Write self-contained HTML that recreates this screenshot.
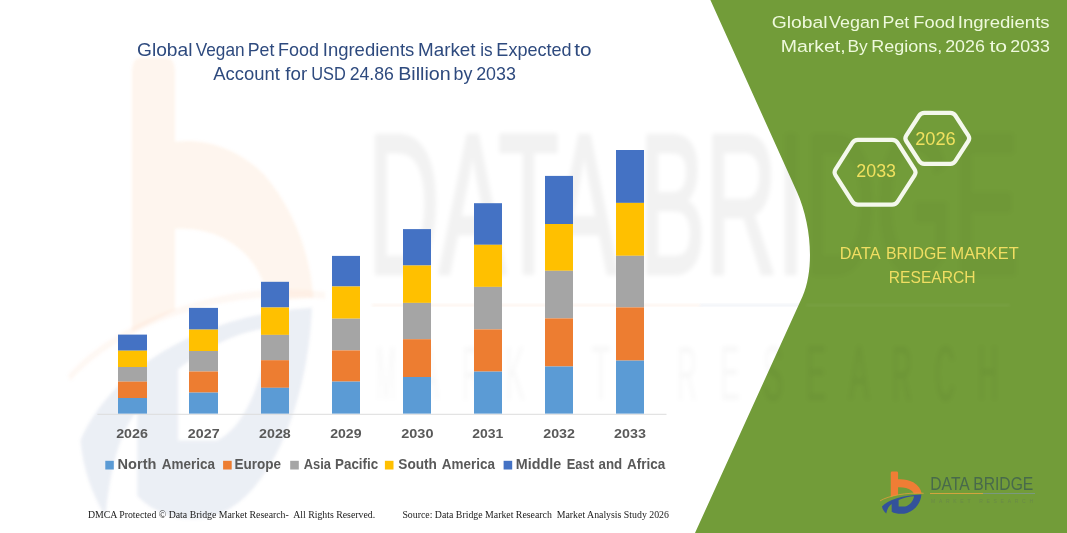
<!DOCTYPE html>
<html><head><meta charset="utf-8"><title>Global Vegan Pet Food Ingredients Market</title>
<style>
html,body{margin:0;padding:0;background:#fff;}
body{width:1067px;height:533px;overflow:hidden;font-family:"Liberation Sans",sans-serif;}
svg{display:block}
text{font-family:"Liberation Sans",sans-serif;}
.serif text{font-family:"Liberation Serif",serif;}
</style></head><body>
<svg width="1067" height="533" viewBox="0 0 1067 533">
<defs>
<filter id="bl" x="-20%" y="-20%" width="140%" height="140%"><feGaussianBlur stdDeviation="1.6"/></filter>
<filter id="bl2" x="-20%" y="-20%" width="140%" height="140%"><feGaussianBlur stdDeviation="2.2"/></filter>
<clipPath id="gclip"><path d="M710.4,0 L797,192 C811,223 815,268 802.5,296.5 L695,533 L1067,533 L1067,0 Z"/></clipPath>

<g id="lg-b"><path d="M140,97 Q140,85 152,85 L193,85 Q205,85 205,97 L205,153 C250,150 300,158 340,180 C385,208 410,245 414,280 L345,283 C343,272 335,260 320,250 C295,232 250,222 205,224 L205,290 L140,308 Z"/></g>
<g id="lg-d"><path fill-rule="evenodd" d="M62,396 C110,336 250,293 412,288 C408,350 366,426 286,452 C236,467 180,459 148,441 L148,372 C126,386 108,412 100,458 C80,440 66,420 62,396 Z M210,338 C256,318 310,306 347,305 C340,346 310,386 268,396 L210,396 Z"/></g>
<g id="wm1"><text x="368" y="273" font-size="198" textLength="651" lengthAdjust="spacingAndGlyphs" stroke-width="5" stroke-linejoin="round" paint-order="stroke">DATA BRIDGE</text></g><g id="wm2"><text stroke="none" x="376" y="400" font-size="78" textLength="20" lengthAdjust="spacingAndGlyphs">M</text><text stroke="none" x="419" y="400" font-size="78" textLength="20" lengthAdjust="spacingAndGlyphs">A</text><text stroke="none" x="462" y="400" font-size="78" textLength="20" lengthAdjust="spacingAndGlyphs">R</text><text stroke="none" x="505" y="400" font-size="78" textLength="20" lengthAdjust="spacingAndGlyphs">K</text><text stroke="none" x="548" y="400" font-size="78" textLength="20" lengthAdjust="spacingAndGlyphs">E</text><text stroke="none" x="591" y="400" font-size="78" textLength="20" lengthAdjust="spacingAndGlyphs">T</text><text stroke="none" x="677" y="400" font-size="78" textLength="20" lengthAdjust="spacingAndGlyphs">R</text><text stroke="none" x="720" y="400" font-size="78" textLength="20" lengthAdjust="spacingAndGlyphs">E</text><text stroke="none" x="763" y="400" font-size="78" textLength="20" lengthAdjust="spacingAndGlyphs">S</text><text stroke="none" x="806" y="400" font-size="78" textLength="20" lengthAdjust="spacingAndGlyphs">E</text><text stroke="none" x="849" y="400" font-size="78" textLength="20" lengthAdjust="spacingAndGlyphs">A</text><text stroke="none" x="892" y="400" font-size="78" textLength="20" lengthAdjust="spacingAndGlyphs">R</text><text stroke="none" x="935" y="400" font-size="78" textLength="20" lengthAdjust="spacingAndGlyphs">C</text><text stroke="none" x="978" y="400" font-size="78" textLength="20" lengthAdjust="spacingAndGlyphs">H</text></g>
</defs>
<rect width="1067" height="533" fill="#ffffff"/>

<g filter="url(#bl)"><g transform="translate(39.4,-46.55) scale(0.6615,1.23)">
<use href="#lg-b" fill="#F4B183" opacity="0.135"/>
<use href="#lg-d" fill="#6A7FB0" opacity="0.125"/>
<path d="M45,345 C120,300 280,268 432,278" fill="none" stroke="#F4B183" stroke-width="6" opacity="0.09"/>
</g></g>

<g id="wmtext">
<g filter="url(#bl2)" fill="#000" stroke="#000">
<use href="#wm1" opacity="0.05"/>
<use href="#wm2" opacity="0.028"/>
</g>
<rect x="372" y="304" width="328" height="2.5" fill="#F4B183" opacity="0.15" filter="url(#bl)"/>
<rect x="700" y="304" width="110" height="2.5" fill="#8FA0C8" opacity="0.15" filter="url(#bl)"/>
</g>

<!-- green panel -->
<path d="M710.4,0 L797,192 C811,223 815,268 802.5,296.5 L695,533 L1067,533 L1067,0 Z" fill="#729C39"/>
<g clip-path="url(#gclip)"><g filter="url(#bl2)" fill="#1d3a00" stroke="#1d3a00">
<use href="#wm1" opacity="0.024"/>
<use href="#wm2" opacity="0.04"/>
</g></g>

<rect x="806" y="304" width="204" height="2.5" fill="#fff" opacity="0.05" filter="url(#bl)"/>
<!-- axis -->
<line x1="97.4" y1="414.3" x2="666.5" y2="414.3" stroke="#DCDCDC" stroke-width="1"/>
<!-- bars -->
<rect x="118" y="334.6" width="29" height="16.1" fill="#4472C4"/>
<rect x="118" y="350.7" width="29" height="16.3" fill="#FFC000"/>
<rect x="118" y="367" width="29" height="14.6" fill="#A5A5A5"/>
<rect x="118" y="381.6" width="29" height="16.4" fill="#ED7D31"/>
<rect x="118" y="398" width="29" height="15.6" fill="#5B9BD5"/>
<rect x="189" y="307.9" width="29" height="21.7" fill="#4472C4"/>
<rect x="189" y="329.6" width="29" height="21.4" fill="#FFC000"/>
<rect x="189" y="351" width="29" height="20.5" fill="#A5A5A5"/>
<rect x="189" y="371.5" width="29" height="21.1" fill="#ED7D31"/>
<rect x="189" y="392.6" width="29" height="21.0" fill="#5B9BD5"/>
<rect x="261" y="281.8" width="28" height="25.7" fill="#4472C4"/>
<rect x="261" y="307.5" width="28" height="27.4" fill="#FFC000"/>
<rect x="261" y="334.9" width="28" height="25.3" fill="#A5A5A5"/>
<rect x="261" y="360.2" width="28" height="27.6" fill="#ED7D31"/>
<rect x="261" y="387.8" width="28" height="25.8" fill="#5B9BD5"/>
<rect x="332" y="255.9" width="28" height="30.6" fill="#4472C4"/>
<rect x="332" y="286.5" width="28" height="32.2" fill="#FFC000"/>
<rect x="332" y="318.7" width="28" height="31.7" fill="#A5A5A5"/>
<rect x="332" y="350.4" width="28" height="31.2" fill="#ED7D31"/>
<rect x="332" y="381.6" width="28" height="32.0" fill="#5B9BD5"/>
<rect x="403" y="229.1" width="28" height="36.4" fill="#4472C4"/>
<rect x="403" y="265.5" width="28" height="37.4" fill="#FFC000"/>
<rect x="403" y="302.9" width="28" height="36.3" fill="#A5A5A5"/>
<rect x="403" y="339.2" width="28" height="37.8" fill="#ED7D31"/>
<rect x="403" y="377" width="28" height="36.6" fill="#5B9BD5"/>
<rect x="474" y="203.2" width="28" height="41.6" fill="#4472C4"/>
<rect x="474" y="244.8" width="28" height="42.1" fill="#FFC000"/>
<rect x="474" y="286.9" width="28" height="42.5" fill="#A5A5A5"/>
<rect x="474" y="329.4" width="28" height="42.2" fill="#ED7D31"/>
<rect x="474" y="371.6" width="28" height="42.0" fill="#5B9BD5"/>
<rect x="545" y="175.9" width="28" height="48.1" fill="#4472C4"/>
<rect x="545" y="224" width="28" height="46.8" fill="#FFC000"/>
<rect x="545" y="270.8" width="28" height="47.6" fill="#A5A5A5"/>
<rect x="545" y="318.4" width="28" height="48.1" fill="#ED7D31"/>
<rect x="545" y="366.5" width="28" height="47.1" fill="#5B9BD5"/>
<rect x="616" y="150" width="28" height="52.9" fill="#4472C4"/>
<rect x="616" y="202.9" width="28" height="52.9" fill="#FFC000"/>
<rect x="616" y="255.8" width="28" height="51.6" fill="#A5A5A5"/>
<rect x="616" y="307.4" width="28" height="53.2" fill="#ED7D31"/>
<rect x="616" y="360.6" width="28" height="53.0" fill="#5B9BD5"/>

<!-- year labels -->
<g font-size="13.4" font-weight="700" fill="#595959">
<text x="116.15" y="438.4" textLength="31.8" lengthAdjust="spacingAndGlyphs">2026</text>
<text x="187.85" y="438.4" textLength="31.72" lengthAdjust="spacingAndGlyphs">2027</text>
<text x="259.05" y="438.4" textLength="31.7" lengthAdjust="spacingAndGlyphs">2028</text>
<text x="330.16" y="438.4" textLength="31.39" lengthAdjust="spacingAndGlyphs">2029</text>
<text x="401.25" y="438.4" textLength="32.24" lengthAdjust="spacingAndGlyphs">2030</text>
<text x="472.16" y="438.4" textLength="31.08" lengthAdjust="spacingAndGlyphs">2031</text>
<text x="543.25" y="438.4" textLength="31.7" lengthAdjust="spacingAndGlyphs">2032</text>
<text x="614.05" y="438.4" textLength="31.8" lengthAdjust="spacingAndGlyphs">2033</text>
</g>

<!-- legend -->
<g font-size="13.8" font-weight="700" fill="#595959">
<text x="117.59" y="469.1" textLength="38.81" lengthAdjust="spacingAndGlyphs">North</text>
<text x="161.79" y="469.1" textLength="53.12" lengthAdjust="spacingAndGlyphs">America</text>
<text x="234.55" y="469.1" textLength="46.58" lengthAdjust="spacingAndGlyphs">Europe</text>
<text x="303.7" y="469.1" textLength="27.22" lengthAdjust="spacingAndGlyphs">Asia</text>
<text x="335.07" y="469.1" textLength="43.07" lengthAdjust="spacingAndGlyphs">Pacific</text>
<text x="398.29" y="469.1" textLength="38.67" lengthAdjust="spacingAndGlyphs">South</text>
<text x="441.79" y="469.1" textLength="53.12" lengthAdjust="spacingAndGlyphs">America</text>
<text x="515.8" y="469.1" textLength="45.35" lengthAdjust="spacingAndGlyphs">Middle</text>
<text x="566.8" y="469.1" textLength="27.17" lengthAdjust="spacingAndGlyphs">East</text>
<text x="598.59" y="469.1" textLength="23.66" lengthAdjust="spacingAndGlyphs">and</text>
<text x="627.09" y="469.1" textLength="38.23" lengthAdjust="spacingAndGlyphs">Africa</text>
<rect x="105.3" y="460.8" width="8.5" height="8.7" fill="#5B9BD5"/>
<rect x="223.1" y="460.8" width="8.6" height="8.7" fill="#ED7D31"/>
<rect x="290.2" y="460.8" width="8.6" height="8.7" fill="#A5A5A5"/>
<rect x="384.9" y="460.8" width="8.6" height="8.7" fill="#FFC000"/>
<rect x="503.6" y="460.8" width="8.6" height="8.7" fill="#4472C4"/>
</g>

<!-- chart title -->
<g font-size="17.8" fill="#2E4A7E">
<text x="137.0" y="56" textLength="55.46" lengthAdjust="spacingAndGlyphs">Global</text>
<text x="195.7" y="56" textLength="48.87" lengthAdjust="spacingAndGlyphs">Vegan</text>
<text x="247.71" y="56" textLength="26.63" lengthAdjust="spacingAndGlyphs">Pet</text>
<text x="277.99" y="56" textLength="41.02" lengthAdjust="spacingAndGlyphs">Food</text>
<text x="322.75" y="56" textLength="91.52" lengthAdjust="spacingAndGlyphs">Ingredients</text>
<text x="418.03" y="56" textLength="57.51" lengthAdjust="spacingAndGlyphs">Market</text>
<text x="480.13" y="56" textLength="12.41" lengthAdjust="spacingAndGlyphs">is</text>
<text x="496.39" y="56" textLength="75.12" lengthAdjust="spacingAndGlyphs">Expected</text>
<text x="574.3" y="56" textLength="17.34" lengthAdjust="spacingAndGlyphs">to</text>
<text x="213.3" y="79.9" textLength="66.64" lengthAdjust="spacingAndGlyphs">Account</text>
<text x="285.3" y="79.9" textLength="21.89" lengthAdjust="spacingAndGlyphs">for</text>
<text x="311.18" y="79.9" textLength="34.59" lengthAdjust="spacingAndGlyphs">USD</text>
<text x="349.67" y="79.9" textLength="44.25" lengthAdjust="spacingAndGlyphs">24.86</text>
<text x="398.16" y="79.9" textLength="52.54" lengthAdjust="spacingAndGlyphs">Billion</text>
<text x="453.59" y="79.9" textLength="18.81" lengthAdjust="spacingAndGlyphs">by</text>
<text x="476.16" y="79.9" textLength="39.76" lengthAdjust="spacingAndGlyphs">2033</text>
</g>

<!-- right title -->
<g font-size="17.4" fill="#EEF9DC">
<text x="771.69" y="27.6" textLength="55.88" lengthAdjust="spacingAndGlyphs">Global</text>
<text x="829.0" y="27.6" textLength="50.81" lengthAdjust="spacingAndGlyphs">Vegan</text>
<text x="882.61" y="27.6" textLength="26.63" lengthAdjust="spacingAndGlyphs">Pet</text>
<text x="913.37" y="27.6" textLength="41.65" lengthAdjust="spacingAndGlyphs">Food</text>
<text x="957.75" y="27.6" textLength="91.83" lengthAdjust="spacingAndGlyphs">Ingredients</text>
<text x="780.68" y="51.7" textLength="64.98" lengthAdjust="spacingAndGlyphs">Market,</text>
<text x="847.54" y="51.7" textLength="20.26" lengthAdjust="spacingAndGlyphs">By</text>
<text x="871.3" y="51.7" textLength="70.84" lengthAdjust="spacingAndGlyphs">Regions,</text>
<text x="945.16" y="51.7" textLength="39.76" lengthAdjust="spacingAndGlyphs">2026</text>
<text x="989.4" y="51.7" textLength="17.66" lengthAdjust="spacingAndGlyphs">to</text>
<text x="1010.27" y="51.7" textLength="39.55" lengthAdjust="spacingAndGlyphs">2033</text>
</g>

<!-- hexagons -->
<g fill="none" stroke="#F4F8EC" stroke-width="4.2" stroke-linejoin="round">
<path d="M835.54,175.33 Q833.60,172.30 835.54,169.27 L852.36,142.93 Q854.30,139.90 857.90,139.90 L892.10,139.90 Q895.70,139.90 897.64,142.93 L914.56,169.27 Q916.50,172.30 914.56,175.33 L897.64,201.67 Q895.70,204.70 892.10,204.70 L857.90,204.70 Q854.30,204.70 852.36,201.67 Z"/>
<path d="M906.24,140.99 Q904.50,138.30 906.24,135.61 L919.26,115.49 Q921.00,112.80 924.20,112.80 L950.40,112.80 Q953.60,112.80 955.34,115.49 L968.36,135.61 Q970.10,138.30 968.36,140.99 L955.34,161.11 Q953.60,163.80 950.40,163.80 L924.20,163.80 Q921.00,163.80 919.26,161.11 Z"/>
</g>
<g font-size="18.4" fill="#F0E15F">
<text x="856.26" y="177" textLength="39.76" lengthAdjust="spacingAndGlyphs">2033</text><text x="915.14" y="145.4" textLength="40.59" lengthAdjust="spacingAndGlyphs">2026</text>
</g>

<!-- DBMR -->
<g font-size="17" fill="#F0DE62">
<text x="839.63" y="258.9" textLength="40.89" lengthAdjust="spacingAndGlyphs">DATA</text>
<text x="885.96" y="258.9" textLength="60.91" lengthAdjust="spacingAndGlyphs">BRIDGE</text>
<text x="950.52" y="258.9" textLength="68.16" lengthAdjust="spacingAndGlyphs">MARKET</text>
<text x="888.78" y="282.5" textLength="86.79" lengthAdjust="spacingAndGlyphs">RESEARCH</text>
</g>

<g transform="translate(875,462) scale(0.11257)">
<use href="#lg-b" fill="#F07D35"/>
<use href="#lg-d" fill="#33529B"/>
<path d="M45,345 C120,300 280,268 432,278" fill="none" stroke="#E3A03C" stroke-width="7"/>
</g>
<text x="930.3" y="490.4" font-size="17.6" fill="#486A4B" textLength="103" lengthAdjust="spacingAndGlyphs">DATA BRIDGE</text>
<rect x="930" y="493" width="53" height="1" fill="#D2A43E"/>
<rect x="983" y="493" width="52" height="1" fill="#7A9880"/>
<text x="931" y="502.5" font-size="5" fill="#6A8A48" textLength="102" lengthAdjust="spacing">MARKET RESEARCH</text>

<!-- footer -->
<g class="serif" font-size="10.8" fill="#1a1a1a">
<text x="87.9" y="518" textLength="287.3" lengthAdjust="spacingAndGlyphs" xml:space="preserve">DMCA Protected © Data Bridge Market Research-  All Rights Reserved.</text>
<text x="402.4" y="518" textLength="266.5" lengthAdjust="spacingAndGlyphs" xml:space="preserve">Source: Data Bridge Market Research  Market Analysis Study 2026</text>
</g>
</svg>
</body></html>
